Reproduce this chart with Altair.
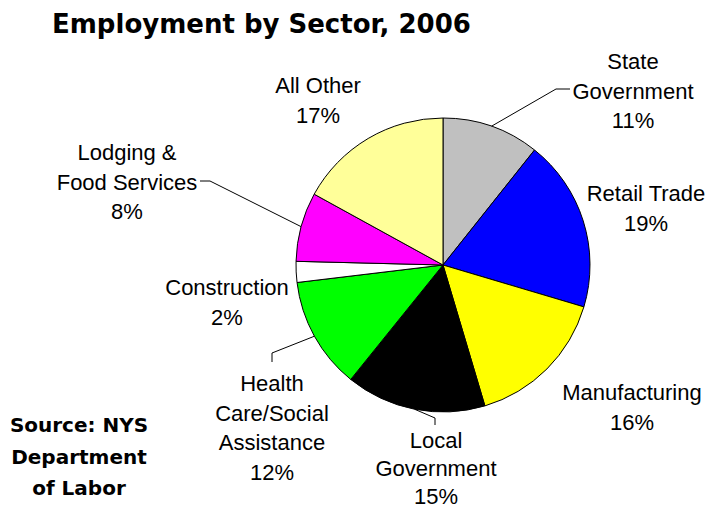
import math
import altair as alt
import pandas as pd

# ---------------- data ----------------
sectors = ["State Government", "Retail Trade", "Manufacturing", "Local Government",
           "Health Care/Social Assistance", "Construction", "Lodging & Food Services", "All Other"]
label_text = ["State\nGovernment", "Retail Trade", "Manufacturing", "Local\nGovernment",
              "Health\nCare/Social\nAssistance", "Construction", "Lodging &\nFood Services", "All Other"]
shares = [10.7, 18.9, 15.8, 15.4, 12.3, 2.3, 7.6, 17.0]
colors = ["#C0C0C0", "#0000FF", "#FFFF00", "#000000", "#00FF00", "#FFFFFF", "#FF00FF", "#FFFF99"]
title_text = "Employment by Sector, 2006"
source_text = "Source: NYS\nDepartment\nof Labor"

# ---------------- layout (view pixel coordinates) ----------------
W, H = 700, 502
CX, CY, R = 435, 257, 147          # pie centre and radius
FS = 22                            # label font size
LH = 29.5                          # label line height
label_x = [625, 638, 624, 428, 264, 219, 119, 310]
label_y = [61, 193, 392, 440, 383, 287, 152, 85]      # first baseline
leader_pts = {                      # elbow / end points of leader lines
    "State Government": [(548, 81), (562, 81)],
    "Lodging & Food Services": [(202, 173), (192, 173)],
    "Health Care/Social Assistance": [(264, 345), (264, 354)],
    "Local Government": [(427, 410), (427, 417)],
}

# ---------------- derived tables ----------------
total = sum(shares)
pie_df = pd.DataFrame({"sector": sectors, "share": shares, "idx": list(range(len(sectors)))})

lab_df = pd.DataFrame({
    "sector": sectors,
    "label": [f"{t}\n{round(s)}%" for t, s in zip(label_text, shares)],
    "lx": label_x,
    "ly": label_y,
})

rows = []
cum = 0.0
for name, s in zip(sectors, shares):
    mid = (cum + s / 2) / total * 2 * math.pi
    cum += s
    if name in leader_pts:
        pts = [(CX + R * math.sin(mid), CY - R * math.cos(mid))] + leader_pts[name]
        for k, (px, py) in enumerate(pts):
            rows.append({"sector": name, "step": k, "px": px, "py": py})
line_df = pd.DataFrame(rows)

# ---------------- chart ----------------
pie = alt.Chart(pie_df).mark_arc(outerRadius=R, stroke="black", strokeWidth=1).encode(
    theta=alt.Theta("share:Q", stack=True),
    order=alt.Order("idx:Q", sort="ascending"),
    color=alt.Color("sector:N", scale=alt.Scale(domain=sectors, range=colors), legend=None),
    x=alt.value(CX),
    y=alt.value(CY),
)

leaders = alt.Chart(line_df).mark_line(color="black", strokeWidth=1).encode(
    x=alt.X("px:Q", scale=None, axis=None),
    y=alt.Y("py:Q", scale=None, axis=None),
    detail="sector:N",
    order="step:Q",
)

text_style = dict(align="center", baseline="alphabetic", lineBreak="\n",
                  fontSize=FS, font="Liberation Sans", color="black")

main_labels = alt.Chart(lab_df[lab_df.sector != "Local Government"]).mark_text(
    lineHeight=LH, **text_style
).encode(
    x=alt.X("lx:Q", scale=None, axis=None),
    y=alt.Y("ly:Q", scale=None, axis=None),
    text="label:N",
)

bottom_label = alt.Chart(lab_df[lab_df.sector == "Local Government"]).mark_text(
    lineHeight=28, **text_style
).encode(
    x=alt.X("lx:Q", scale=None, axis=None),
    y=alt.Y("ly:Q", scale=None, axis=None),
    text="label:N",
)

title = alt.Chart(pd.DataFrame({"t": [title_text]})).mark_text(
    align="left", baseline="alphabetic", fontSize=26, fontWeight="bold",
    font="DejaVu Sans", color="black",
).encode(x=alt.value(44), y=alt.value(25), text="t:N")

source = alt.Chart(pd.DataFrame({"t": [source_text]})).mark_text(
    align="center", baseline="alphabetic", fontSize=20, fontWeight="bold",
    font="DejaVu Sans", color="black", lineBreak="\n", lineHeight=31.5,
).encode(x=alt.value(71), y=alt.value(424), text="t:N")

chart = alt.layer(pie, leaders, main_labels, bottom_label, title, source).properties(
    width=W, height=H, autosize=alt.AutoSizeParams(type="none"), padding=0,
    background="white",
).configure_view(strokeWidth=0)

chart.save("out.html", embed_options={"renderer": "svg", "actions": False})
